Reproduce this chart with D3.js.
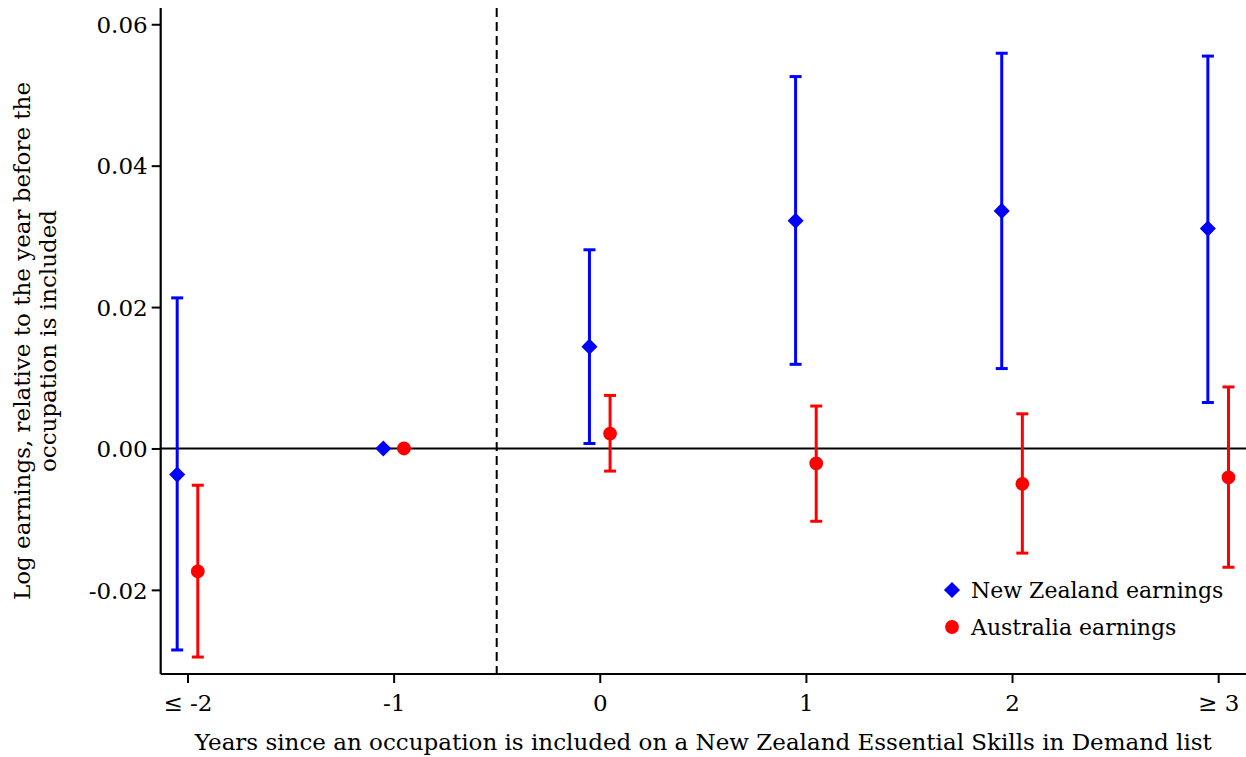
<!DOCTYPE html>
<html>
<head>
<meta charset="utf-8">
<script src="https://cdn.jsdelivr.net/npm/d3@7"></script>
<style>
  html, body { margin: 0; padding: 0; background: #fff; }
  svg text { font-family: "DejaVu Serif", "Liberation Serif", serif; fill: #000; }
</style>
</head>
<body>
<svg id="chart" width="1246" height="757"></svg>
<script>
// Event-study estimates by years relative to inclusion on the list
const periods = [-2, -1, 0, 1, 2, 3];
const periodLabels = ["\u2264 -2", "-1", "0", "1", "2", "\u2265 3"];

const nzEstimate = [-0.0037, 0.0, 0.0144, 0.0322, 0.0336, 0.0311];
const nzLower    = [-0.0285, null, 0.0007, 0.0119, 0.0113, 0.0065];
const nzUpper    = [ 0.0213, null, 0.0281, 0.0526, 0.0559, 0.0555];

const auEstimate = [-0.0174, 0.0, 0.0021, -0.0021, -0.0050, -0.0041];
const auLower    = [-0.0295, null, -0.0032, -0.0103, -0.0148, -0.0168];
const auUpper    = [-0.0052, null, 0.0075, 0.0060, 0.0049, 0.0087];

const yTicks = [-0.02, 0.00, 0.02, 0.04, 0.06];

const seriesNames = ["New Zealand earnings", "Australia earnings"];

const svg = d3.select("#chart");
const plotL = 160.7, plotR = 1246, plotT = 8, plotB = 674;

const x = d3.scaleLinear().domain([-2.13, 3.135]).range([plotL, plotR]);
const y = d3.scaleLinear().domain([-0.0319, 0.0623]).range([plotB, plotT]);

const blue = "#0000ff", red = "#ff0000";
const offset = 0.05;
const labelSize = "23px";

// zero reference line
svg.append("line")
  .attr("x1", plotL).attr("x2", plotR)
  .attr("y1", y(0)).attr("y2", y(0))
  .attr("stroke", "#000").attr("stroke-width", 2);

// dashed line marking the inclusion year
svg.append("line")
  .attr("x1", x(-0.5)).attr("x2", x(-0.5))
  .attr("y1", plotT).attr("y2", plotB)
  .attr("stroke", "#000").attr("stroke-width", 2)
  .attr("stroke-dasharray", "9,5");

// axes (plain hyphen for negative numbers)
const fmt = d => d3.format(".2f")(d).replace("\u2212", "-");
const yAxis = d3.axisLeft(y).tickValues(yTicks).tickFormat(fmt)
  .tickSize(9).tickPadding(4);
const gy = svg.append("g").attr("transform", `translate(${plotL},0)`).call(yAxis);
gy.select(".domain").attr("d", `M0,${plotT}V${plotB}`).attr("stroke-width", 2.2);

const xAxis = d3.axisBottom(x).tickValues(periods)
  .tickFormat((d, i) => periodLabels[i]).tickSize(9).tickPadding(12);
const gx = svg.append("g").attr("transform", `translate(0,${plotB})`).call(xAxis);
gx.select(".domain").attr("d", `M${plotL},0H${plotR}`).attr("stroke-width", 2.2);

[gx, gy].forEach(g => {
  g.attr("font-family", null).attr("font-size", null);
  g.selectAll(".tick line").attr("stroke-width", 2);
  g.selectAll("text").style("font-size", labelSize).attr("fill", "#000");
});
gy.selectAll(".tick text").attr("dy", "0.36em");

// error bars and markers
function drawSeries(est, lo, hi, color, dx, shape) {
  const g = svg.append("g");
  periods.forEach((p, i) => {
    const cx = x(p + dx);
    if (lo[i] !== null) {
      g.append("line").attr("x1", cx).attr("x2", cx)
        .attr("y1", y(lo[i])).attr("y2", y(hi[i]))
        .attr("stroke", color).attr("stroke-width", 3);
      [lo[i], hi[i]].forEach(v => {
        g.append("line").attr("x1", cx - 6).attr("x2", cx + 6)
          .attr("y1", y(v)).attr("y2", y(v))
          .attr("stroke", color).attr("stroke-width", 3);
      });
    }
    g.append("path")
      .attr("transform", `translate(${cx},${y(est[i])})`)
      .attr("d", shape)
      .attr("fill", color);
  });
}

const diamond = d3.symbol().type(d3.symbolDiamond2).size(165)();
const circle = d3.symbol().type(d3.symbolCircle).size(150)();

drawSeries(nzEstimate, nzLower, nzUpper, blue, -offset, diamond);
drawSeries(auEstimate, auLower, auUpper, red, offset, circle);

// legend
const legend = svg.append("g").attr("transform", "translate(952,590)");
[[diamond, blue], [circle, red]].forEach(([shape, color], i) => {
  legend.append("path").attr("d", shape).attr("fill", color)
    .attr("transform", `translate(0,${i * 37})`);
  legend.append("text").attr("x", 19).attr("y", i * 37)
    .attr("dy", "0.36em").style("font-size", "22px")
    .text(seriesNames[i]);
});

// axis titles
svg.append("text")
  .attr("x", (plotL + plotR) / 2).attr("y", 750)
  .attr("text-anchor", "middle").style("font-size", labelSize)
  .text("Years since an occupation is included on a New Zealand Essential Skills in Demand list");

const yTitle = svg.append("text")
  .attr("transform", `translate(0,${(plotT + plotB) / 2}) rotate(-90)`)
  .attr("text-anchor", "middle").style("font-size", labelSize);
yTitle.append("tspan").attr("x", 0).attr("y", 30)
  .text("Log earnings, relative to the year before the");
yTitle.append("tspan").attr("x", 0).attr("y", 56)
  .text("occupation is included");
</script>
</body>
</html>
